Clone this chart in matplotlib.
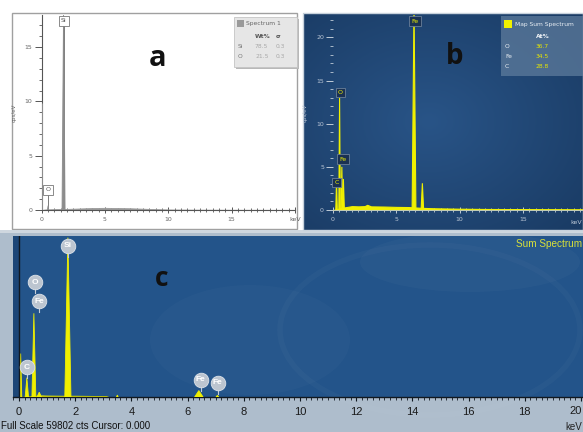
import numpy as np
import matplotlib
matplotlib.use('Agg')
import matplotlib.pyplot as plt
from matplotlib.patches import Rectangle, Ellipse
from matplotlib.ticker import MultipleLocator, FuncFormatter

# ---------------- data ----------------
# Panel a : grey EDS spectrum (cps/eV)
a_peak_keV = [0.05, 0.52, 1.74]
a_peak_cps = [9.8, 0.4, 18.5]
a_peak_hw = [0.03, 0.05, 0.12]
a_cont_keV = [0.0, 0.3, 1.0, 2.0, 3.0, 4.0, 5.0, 6.0, 7.0, 8.0, 9.0, 10.0, 12.0, 15.0, 20.0]
a_cont_cps = [0.0, 0.05, 0.08, 0.10, 0.14, 0.18, 0.20, 0.18, 0.16, 0.12, 0.08, 0.05, 0.03, 0.02, 0.01]
a_label_el = ['O', 'Si']
a_label_keV = [0.52, 1.74]
a_label_cps = [1.85, 17.4]
a_leg_el = ['Si', 'O']
a_leg_wt = [78.5, 21.5]
a_leg_sigma = [0.3, 0.3]

# Panel b : yellow map sum spectrum (cps/eV)
b_peak_keV = [0.28, 0.52, 0.70, 0.82, 6.40, 7.06]
b_peak_cps = [3.4, 13.0, 5.0, 3.6, 23.5, 3.1]
b_peak_hw = [0.06, 0.06, 0.06, 0.08, 0.15, 0.10]
b_cont_keV = [0.0, 0.9, 1.5, 2.0, 2.5, 2.7, 3.0, 4.0, 5.0, 6.0, 7.0, 8.0, 10.0, 12.0, 15.0, 20.0]
b_cont_cps = [0.0, 0.3, 0.45, 0.42, 0.45, 0.6, 0.42, 0.40, 0.36, 0.34, 0.25, 0.2, 0.15, 0.12, 0.1, 0.08]
b_label_el = ['C', 'O', 'Fe', 'Fe']
b_label_keV = [0.28, 0.58, 0.78, 6.46]
b_label_cps = [3.2, 13.6, 5.9, 21.9]
b_leg_el = ['O', 'Fe', 'C']
b_leg_at = [36.7, 34.5, 28.8]

# Panel c : sum spectrum (relative counts, % of Si peak)
c_peak_keV = [0.06, 0.28, 0.53, 0.72, 1.74, 3.50, 6.40, 7.06]
c_peak_pct = [27, 12, 52, 3, 99, 1.2, 4, 1]
c_peak_hw = [0.04, 0.06, 0.07, 0.08, 0.11, 0.03, 0.15, 0.05]
c_cont_keV = [0.0, 0.8, 1.0, 1.5, 2.0, 2.5, 3.1, 3.2, 20.0]
c_cont_pct = [0.0, 1.0, 0.9, 0.8, 0.8, 0.7, 0.6, 0.0, 0.0]
c_label_el = ['C', 'O', 'Fe', 'Si', 'Fe', 'Fe']
c_label_keV = [0.29, 0.57, 0.71, 1.75, 6.46, 7.07]
c_label_pct = [18.6, 71.4, 59.6, 93.8, 10.6, 8.7]
c_full_scale = 59802

# ---------------- figure ----------------
W, H = 583, 432
fig = plt.figure(figsize=(W / 100, H / 100), dpi=100)
fig.patch.set_facecolor('white')


def fbox(x0, y0, x1, y1):
    return [x0 / W, 1 - y1 / H, (x1 - x0) / W, (y1 - y0) / H]


# background drawing layer in pixel coordinates
bg = fig.add_axes([0, 0, 1, 1], zorder=-5)
bg.set_xlim(0, W)
bg.set_ylim(H, 0)
bg.axis('off')

# panel a frame
bg.add_patch(Rectangle((12, 13), 285, 216, fc='white', ec='#a0a0a0', lw=1))
# panel b background with a soft radial gradient
yy, xx = np.mgrid[0:1:120j, 0:1:160j]
r = np.sqrt(((xx - 0.45) / 0.75) ** 2 + ((yy - 0.5) / 0.75) ** 2)
c_center = np.array([0.16, 0.33, 0.53])
c_edge = np.array([0.10, 0.23, 0.39])
t = np.clip(r, 0, 1)[..., None]
img = c_center * (1 - t) + c_edge * t
bg.imshow(img, extent=(303, 583, 230, 13), aspect='auto', zorder=1)
bg.add_patch(Rectangle((303, 13), 280, 217, fc='none', ec='#c8d2dc', lw=1, zorder=2))
# separator + panel c frame
bg.add_patch(Rectangle((0, 230), W, 4, fc='#cfd7df', ec='none', zorder=1))
bg.add_patch(Rectangle((0, 233), W, H - 233, fc='#aebdcc', ec='none', zorder=1))
bg.add_patch(Rectangle((13, 236), W - 13, 161, fc='#23548a', ec='none', zorder=2))
bg.add_patch(Rectangle((13, 236), 6, 161, fc='#1c4677', ec='none', zorder=2))
bg.add_patch(Ellipse((430, 330), 300, 170, fc='none', ec='white', alpha=0.025, lw=4, zorder=3))
bg.add_patch(Ellipse((470, 262), 220, 60, fc='white', ec='none', alpha=0.025, zorder=3))
bg.add_patch(Ellipse((250, 340), 200, 110, fc='white', ec='none', alpha=0.02, zorder=3))


def draw_peaks(ax, keV, h, hw, color, lw):
    for e, hh, w in zip(keV, h, hw):
        ax.fill([e - w, e, e + w], [0, hh, 0], color=color, lw=lw, zorder=3)


# ---------------- panel a ----------------
ax_a = fig.add_axes(fbox(41.5, 15, 295, 210))
ax_a.patch.set_alpha(0)
ax_a.set_xlim(0, 20)
ax_a.set_ylim(0, 17.95)
ax_a.fill_between(a_cont_keV, a_cont_cps, color='#9a9a9a', lw=0.6, zorder=2)
draw_peaks(ax_a, a_peak_keV, a_peak_cps, a_peak_hw, '#8c8c8c', 0.6)
for el, e, y in zip(a_label_el, a_label_keV, a_label_cps):
    ax_a.plot([e, e], [0, y], color='#7a7a7a', lw=0.7, zorder=2, clip_on=False)
    ax_a.text(e, y, el, ha='center', va='center', fontsize=4.5, color='#555555',
              bbox=dict(boxstyle='square,pad=0.35', fc='white', ec='#777777', lw=0.6),
              zorder=5, clip_on=False)
for s in ['top', 'right']:
    ax_a.spines[s].set_visible(False)
for s in ['left', 'bottom']:
    ax_a.spines[s].set_color('#555555')
    ax_a.spines[s].set_linewidth(0.8)
ax_a.xaxis.set_major_locator(MultipleLocator(5))
ax_a.xaxis.set_minor_locator(MultipleLocator(0.5))
ax_a.yaxis.set_major_locator(MultipleLocator(5))
ax_a.yaxis.set_minor_locator(MultipleLocator(1))
ax_a.xaxis.set_major_formatter(FuncFormatter(lambda v, p: 'keV' if v >= 20 else f'{v:g}'))
ax_a.tick_params(axis='x', which='major', direction='inout', length=4, width=0.7,
                 color='#555555', labelsize=4.5, labelcolor='#666666', pad=3)
ax_a.tick_params(axis='x', which='minor', direction='inout', length=2.5, width=0.6, color='#555555')
ax_a.tick_params(axis='y', which='major', direction='out', length=5, width=0.7,
                 color='#555555', labelsize=4.5, labelcolor='#666666', pad=1.5)
ax_a.tick_params(axis='y', which='minor', direction='out', length=2.5, width=0.6, color='#555555')
ax_a.set_ylabel('cps/eV', fontsize=4, color='#666666', labelpad=6)

# ---------------- panel b ----------------
ax_b = fig.add_axes(fbox(333, 15, 583, 210))
ax_b.patch.set_alpha(0)
ax_b.set_xlim(0, 19.75)
ax_b.set_ylim(0, 22.6)
ax_b.fill_between(b_cont_keV, b_cont_cps, color='#f0f000', lw=0.8, zorder=2)
draw_peaks(ax_b, b_peak_keV, b_peak_cps, b_peak_hw, '#f0f000', 0.8)
for el, e, y in zip(b_label_el, b_label_keV, b_label_cps):
    ax_b.text(e, y, el, ha='center', va='center', fontsize=4.5, color='#f0f000',
              bbox=dict(boxstyle='square,pad=0.35', fc='#1a3152', ec='#6a7f98', lw=0.6),
              zorder=5, clip_on=False)
for s in ['top', 'right', 'left']:
    ax_b.spines[s].set_visible(False)
ax_b.spines['bottom'].set_color('#b8c4d4')
ax_b.spines['bottom'].set_linewidth(0.6)
ax_b.xaxis.set_major_locator(MultipleLocator(5))
ax_b.xaxis.set_minor_locator(MultipleLocator(0.5))
ax_b.yaxis.set_major_locator(MultipleLocator(5))
ax_b.yaxis.set_minor_locator(MultipleLocator(1))
ax_b.tick_params(axis='x', which='major', direction='inout', length=4, width=0.7,
                 color='#c0ccd8', labelsize=4.5, labelcolor='#b8c4d4', pad=3)
ax_b.tick_params(axis='x', which='minor', direction='inout', length=2.5, width=0.6, color='#c0ccd8')
ax_b.tick_params(axis='y', which='major', direction='out', length=5, width=0.7,
                 color='#c0ccd8', labelsize=4.5, labelcolor='#b8c4d4', pad=1.5)
ax_b.tick_params(axis='y', which='minor', direction='out', length=2.5, width=0.6, color='#c0ccd8')
ax_b.set_ylabel('cps/eV', fontsize=4, color='#b8c4d4', labelpad=6)

# ---------------- panel c ----------------
ax_c = fig.add_axes(fbox(13, 236, 583, 397))
ax_c.patch.set_alpha(0)
ax_c.set_xlim(-0.213, 20.07)
ax_c.set_ylim(0, 100)
ax_c.fill_between(c_cont_keV, c_cont_pct, color='#f0f000', lw=0.6, zorder=2)
draw_peaks(ax_c, c_peak_keV, c_peak_pct, c_peak_hw, '#f0f000', 0.6)
ax_c.axvline(0, color='#101820', lw=1.0, zorder=4)
for el, e, y in zip(c_label_el, c_label_keV, c_label_pct):
    ax_c.plot([e, e], [y - 7, y], color='#c4ccd6', lw=0.8, zorder=5)
    ax_c.plot([e], [y], marker='o', ms=10.5, mfc='#bcc5d0', mec='#dde3ea', mew=0.6,
              zorder=6, clip_on=False)
    ax_c.text(e, y, el, ha='center', va='center', fontsize=6, color='white',
              family='Liberation Sans', fontweight='bold', zorder=7, clip_on=False)
for s in ['top', 'right', 'left']:
    ax_c.spines[s].set_visible(False)
ax_c.spines['bottom'].set_color('#101820')
ax_c.spines['bottom'].set_linewidth(1.0)
ax_c.xaxis.set_major_locator(MultipleLocator(2))
ax_c.xaxis.set_minor_locator(MultipleLocator(0.2))
ax_c.xaxis.set_major_formatter(FuncFormatter(lambda v, p: f'{v:g}' if v < 19.9 else ''))
ax_c.set_yticks([])
ax_c.tick_params(axis='x', which='major', direction='out', length=3, width=0.8,
                 color='#101820', labelsize=8, labelcolor='#1a1a1a', pad=4.5)
ax_c.tick_params(axis='x', which='minor', direction='out', length=2, width=0.6, color='#101820')
for lab in ax_c.get_xticklabels():
    lab.set_family('Liberation Sans')

# ---------------- overlay: legends and titles ----------------
ov = fig.add_axes([0, 0, 1, 1], zorder=10)
ov.set_xlim(0, W)
ov.set_ylim(H, 0)
ov.axis('off')
ov.patch.set_alpha(0)

# legend a
ov.add_patch(Rectangle((236, 19), 63, 50, fc='#b8b8b8', ec='none'))
ov.add_patch(Rectangle((234, 17), 63, 50, fc='#e6e6e6', ec='#c4c4c4', lw=0.6))
ov.add_patch(Rectangle((237, 20), 7, 7, fc='#9a9a9a', ec='none'))
ov.text(246, 24, 'Spectrum 1', fontsize=4.3, color='#666666', va='center')
ov.text(255, 36, 'Wt%', fontsize=4.3, color='#555555', va='center', fontweight='bold')
ov.text(276, 36, 'σ', fontsize=4.3, color='#555555', va='center', fontweight='bold')
for i, (el, wt, sg) in enumerate(zip(a_leg_el, a_leg_wt, a_leg_sigma)):
    yy_ = 47 + 10 * i
    ov.text(238, yy_, el, fontsize=4.3, color='#777777', va='center')
    ov.text(255, yy_, f'{wt:.1f}', fontsize=4.3, color='#a8a8a8', va='center')
    ov.text(276, yy_, f'{sg:.1f}', fontsize=4.3, color='#a8a8a8', va='center')

# legend b
ov.add_patch(Rectangle((501, 16), 82, 60, fc='#5d7b9c', ec='none', alpha=0.75))
ov.add_patch(Rectangle((504, 20), 8, 8, fc='#f2f200', ec='none'))
ov.text(515, 24.5, 'Map Sum Spectrum', fontsize=4.3, color='#e8eef4', va='center')
ov.text(536, 37, 'At%', fontsize=4.3, color='#f0f4f8', va='center', fontweight='bold')
for i, (el, v) in enumerate(zip(b_leg_el, b_leg_at)):
    yy_ = 47 + 10 * i
    ov.text(505, yy_, el, fontsize=4.3, color='#eef2f6', va='center')
    ov.text(536, yy_, f'{v:.1f}', fontsize=4.3, color='#e8e800', va='center')

# panel letters
ov.text(158, 58, 'a', fontsize=21, fontweight='bold', ha='center', va='center',
        color='#111111', family='Open Sans')
ov.text(455, 56, 'b', fontsize=20, fontweight='bold', ha='center', va='center',
        color='#111111', family='Open Sans')
ov.text(162, 278, 'c', fontsize=19, fontweight='bold', ha='center', va='center',
        color='#111111', family='Open Sans')

# panel c texts
ov.text(582, 244, 'Sum Spectrum', fontsize=7.2, color='#d8e03a', va='center', ha='right',
        family='Liberation Sans')
ov.text(1, 426, f'Full Scale {c_full_scale} cts Cursor: 0.000', fontsize=7,
        color='#111111', va='center', family='Liberation Sans')
ov.text(582, 411, '20', fontsize=8, color='#1a1a1a', va='center', ha='right',
        family='Liberation Sans')
ov.text(582, 427, 'keV', fontsize=7, color='#222222', va='center', ha='right',
        family='Liberation Sans')
ov.text(582, 222, 'keV', fontsize=4.5, color='#b8c4d4', va='center', ha='right')

fig.savefig('out.png', dpi=100)
